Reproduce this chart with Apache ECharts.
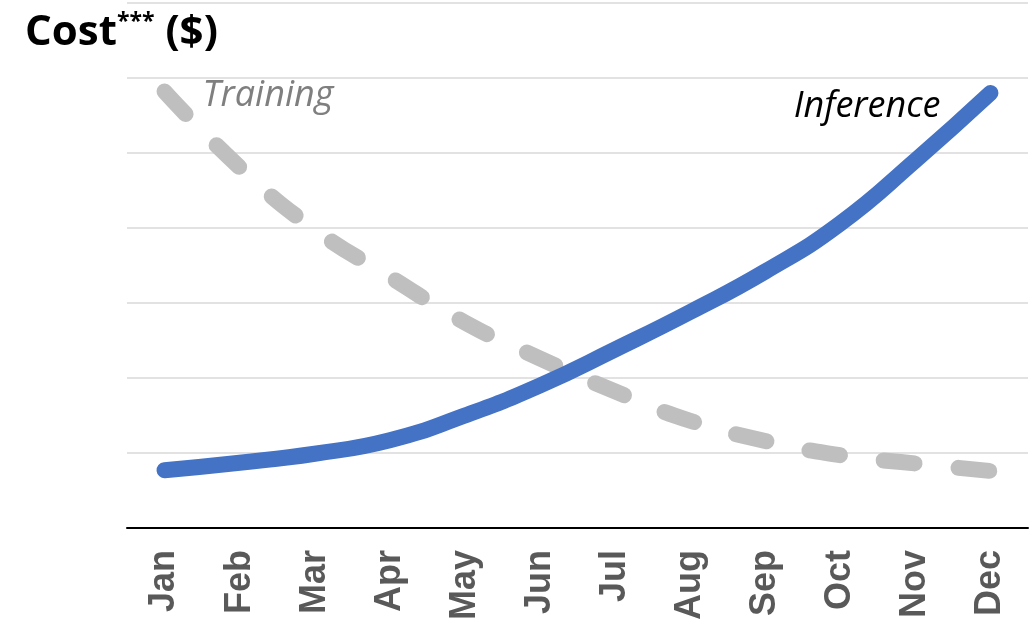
<!DOCTYPE html>
<html>
<head>
<meta charset="utf-8">
<script src="https://cdn.jsdelivr.net/npm/echarts@6/dist/echarts.min.js"></script>
<style>
  html, body { margin: 0; padding: 0; background: #fff; }
  #chart { width: 1030px; height: 623px; }
</style>
</head>
<body>
<div id="chart"></div>
<script>
// months on the x axis
var months = ['Jan', 'Feb', 'Mar', 'Apr', 'May', 'Jun', 'Jul', 'Aug', 'Sep', 'Oct', 'Nov', 'Dec'];
// cost values (y axis runs 0..7, no labels)
var inference = [0.77, 0.87, 0.99, 1.17, 1.50, 1.90, 2.38, 2.88, 3.42, 4.06, 4.90, 5.80];
var training = [5.82, 4.81, 3.98, 3.35, 2.74, 2.26, 1.82, 1.43, 1.16, 0.97, 0.86, 0.76];
var seriesNames = ['Inference', 'Training'];

var myChart = echarts.init(document.getElementById('chart'));

var base = {
  type: 'line',
  smooth: 0.5,
  showSymbol: true,
  symbol: 'circle',
  symbolSize: 0,
  silent: true
};

var option = {
  animation: false,
  title: {
    left: 20,
    top: -1,
    text: '{a|Cost}{b|***}{a| ($)}',
    textStyle: {
      rich: {
        a: { fontSize: 42, fontWeight: 'bold', fontFamily: 'Open Sans', color: '#000', lineHeight: 58 },
        b: { fontSize: 23, fontWeight: 'bold', fontFamily: 'Open Sans', color: '#000', verticalAlign: 'top', padding: [7, 0, 0, 0] }
      }
    }
  },
  grid: { left: 127, right: 2, top: 3, bottom: 93 },
  xAxis: {
    type: 'category',
    data: months,
    axisLine: { lineStyle: { color: '#000', width: 2 } },
    axisTick: { show: false },
    axisLabel: {
      rotate: 90,
      margin: 22,
      color: '#595959',
      fontFamily: 'Liberation Sans',
      fontWeight: 'bold',
      fontSize: 36
    }
  },
  yAxis: {
    type: 'value',
    min: 0,
    max: 7,
    interval: 1,
    axisLabel: { show: false },
    axisLine: { show: false },
    axisTick: { show: false },
    splitLine: { lineStyle: { color: '#D9D9D9', width: 1.5 } }
  },
  series: [
    Object.assign({}, base, {
      name: seriesNames[1],
      z: 2,
      lineStyle: { color: '#BFBFBF', width: 16, type: [31, 44], cap: 'round', join: 'round' },
      itemStyle: { color: '#BFBFBF' },
      data: training.map(function (v, i) {
        return i === 0 ? {
          value: v,
          label: {
            show: true, position: 'right', distance: 38, offset: [0, 4],
            formatter: seriesNames[1],
            fontFamily: 'Open Sans', fontStyle: 'italic', fontSize: 36, color: '#7F7F7F'
          }
        } : v;
      })
    }),
    Object.assign({}, base, {
      name: seriesNames[0],
      z: 3,
      lineStyle: { color: '#4472C4', width: 16, cap: 'round', join: 'round' },
      itemStyle: { color: '#4472C4' },
      data: inference.map(function (v, i) {
        return i === inference.length - 1 ? {
          value: v,
          label: {
            show: true, position: 'left', distance: 50, offset: [0, 14],
            formatter: seriesNames[0],
            fontFamily: 'Open Sans', fontStyle: 'italic', fontSize: 36, color: '#000'
          }
        } : v;
      })
    })
  ]
};

myChart.setOption(option);
</script>
</body>
</html>
